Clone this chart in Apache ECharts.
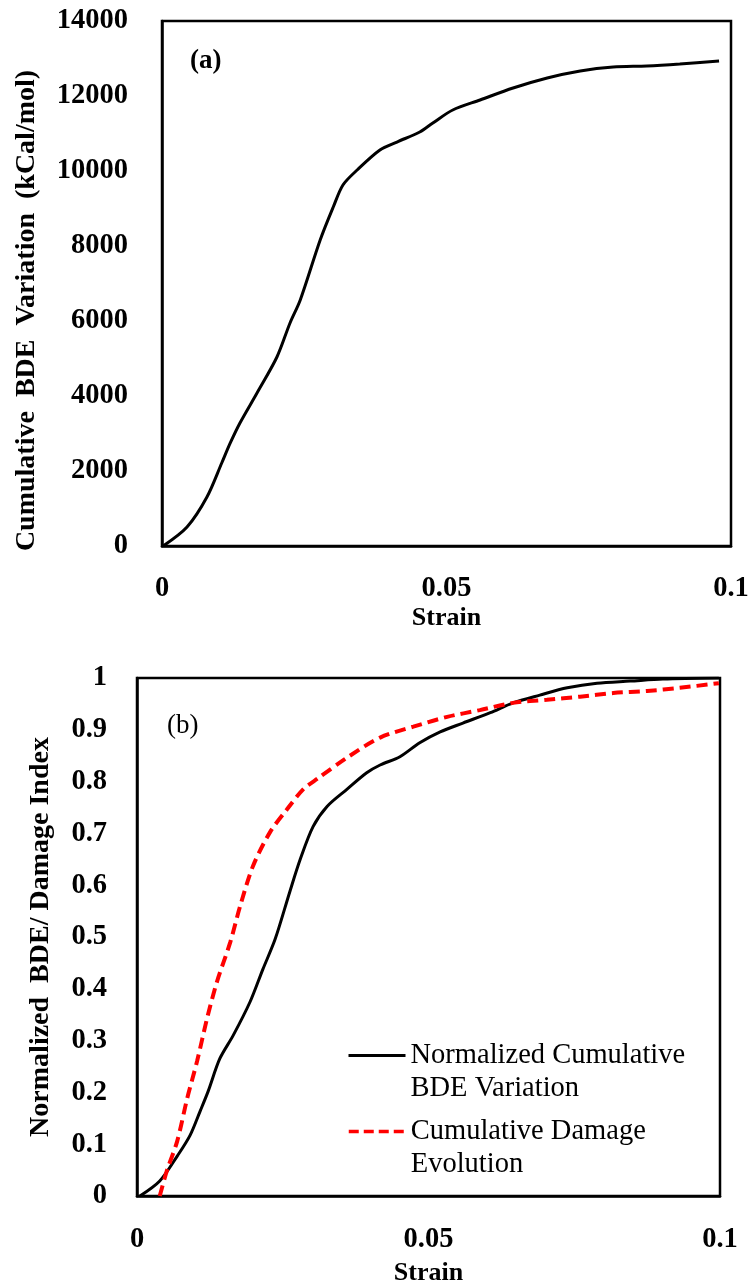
<!DOCTYPE html>
<html><head><meta charset="utf-8">
<script src="https://cdn.jsdelivr.net/npm/echarts@6/dist/echarts.min.js"></script>
<style>html,body{margin:0;padding:0;background:#fff}#c{width:754px;height:1287px}</style>
</head><body><div id="c"></div>
<script>
// ---- data ----
const strainA = [0.0002,0.0044,0.0079,0.0105,0.012,0.0137,0.0167,0.0202,0.0225,0.0243,0.0278,0.0301,0.0318,0.0343,0.0383,0.0413,0.0453,0.0476,0.0511,0.0559,0.0617,0.0677,0.0735,0.0793,0.0852,0.091,0.0979];
const bdeA    = [0,507,1307,2213,2747,3280,4080,5040,5947,6560,8160,9040,9627,10027,10560,10773,11040,11280,11627,11893,12213,12480,12667,12773,12800,12853,12933];

const strainB = [0.0005,0.0039,0.0069,0.0091,0.0108,0.0122,0.0142,0.0165,0.0194,0.0216,0.0237,0.0262,0.028,0.0302,0.0326,0.036,0.0394,0.0417,0.0451,0.0485,0.052,0.0559,0.0606,0.0645,0.0691,0.0738,0.0789,0.0846,0.0902,0.0998];
const normB   = [0,0.029,0.077,0.117,0.163,0.202,0.265,0.31,0.375,0.438,0.496,0.587,0.65,0.713,0.752,0.785,0.817,0.832,0.848,0.875,0.896,0.913,0.933,0.952,0.967,0.981,0.99,0.994,0.998,1.0];

const strainD = [0.0039,0.0051,0.0069,0.0086,0.0103,0.012,0.0137,0.016,0.0177,0.0199,0.0228,0.0257,0.0285,0.031,0.036,0.0417,0.0474,0.0532,0.0588,0.0645,0.0703,0.076,0.0817,0.0875,0.0931,0.0998];
const damageD = [0,0.048,0.106,0.188,0.26,0.342,0.413,0.49,0.56,0.637,0.702,0.746,0.785,0.806,0.846,0.885,0.906,0.925,0.938,0.952,0.958,0.964,0.971,0.975,0.981,0.99];

const seriesNames = ['Normalized Cumulative\nBDE Variation', 'Cumulative Damage\nEvolution'];
const panelLabels = ['(a)', '(b)'];
const axisTitles = {
  xA: 'Strain', yA: 'Cumulative  BDE  Variation  (kCal/mol)',
  xB: 'Strain', yB: 'Normalized  BDE/ Damage Index'
};
const xRange = {min: 0, max: 0.1, interval: 0.05};
const yRangeA = {min: 0, max: 14000, interval: 2000};
const yRangeB = {min: 0, max: 1, interval: 0.1};

const zip = (xs, ys) => xs.map((x, i) => [x, ys[i]]);

// ---- chart ----
const FONT = "'Liberation Serif','Times New Roman',serif";
const chart = echarts.init(document.getElementById('c'), null, {renderer: 'canvas'});
const axisLine = {show: true, onZero: false, lineStyle: {color: '#000', width: 2.5}};
const tickLabel = (margin) => ({fontFamily: FONT, fontSize: 28.5, fontWeight: 'bold', color: '#000', margin,
  formatter: v => String(v)});
const legendText = {fontFamily: FONT, fontSize: 28.5, lineHeight: 33, color: '#000'};
// leading blank line keeps the first text line level with the legend line sample
const legendFmt = name => '\n' + name;

chart.setOption({
  animation: false,
  backgroundColor: '#fff',
  title: [
    {text: panelLabels[0], left: 190, top: 48, padding: 0,
     textStyle: {fontFamily: FONT, fontSize: 27, fontWeight: 'bold', color: '#000'}},
    {text: panelLabels[1], left: 167, top: 712, padding: 0,
     textStyle: {fontFamily: FONT, fontSize: 27, fontWeight: 'normal', color: '#000'}}
  ],
  grid: [
    {left: 162, top: 21, width: 569, height: 525, show: true, borderColor: '#000', borderWidth: 2.5, containLabel: false},
    {left: 137, top: 678, width: 583, height: 520, show: true, borderColor: '#000', borderWidth: 2.5, containLabel: false}
  ],
  legend: [
    {data: [seriesNames[0]], left: 347, top: 1006, orient: 'vertical', padding: 0,
     itemWidth: 57, itemHeight: 14, selectedMode: false, formatter: legendFmt,
     itemStyle: {opacity: 0}, lineStyle: {width: 3, color: '#000', type: 'solid'}, textStyle: legendText},
    {data: [seriesNames[1]], left: 347, top: 1082, orient: 'vertical', padding: 0,
     itemWidth: 57, itemHeight: 14, selectedMode: false, formatter: legendFmt,
     itemStyle: {opacity: 0}, lineStyle: {width: 3.5, color: '#ff0000', type: [10, 5]}, textStyle: legendText}
  ],
  xAxis: [
    {type: 'value', gridIndex: 0, ...xRange, axisLine, axisTick: {show: false}, splitLine: {show: false},
     axisLabel: tickLabel(28),
     name: axisTitles.xA, nameLocation: 'middle', nameGap: 59,
     nameTextStyle: {fontFamily: FONT, fontSize: 26, fontWeight: 'bold', color: '#000'}},
    {type: 'value', gridIndex: 1, ...xRange, axisLine, axisTick: {show: false}, splitLine: {show: false},
     axisLabel: tickLabel(29),
     name: axisTitles.xB, nameLocation: 'middle', nameGap: 64,
     nameTextStyle: {fontFamily: FONT, fontSize: 26, fontWeight: 'bold', color: '#000'}}
  ],
  yAxis: [
    {type: 'value', gridIndex: 0, ...yRangeA, axisLine, axisTick: {show: false}, splitLine: {show: false},
     axisLabel: tickLabel(34),
     name: axisTitles.yA, nameLocation: 'middle', nameGap: 121,
     nameTextStyle: {fontFamily: FONT, fontSize: 28, fontWeight: 'bold', color: '#000', padding: [0, 54, 0, 0]}},
    {type: 'value', gridIndex: 1, ...yRangeB, axisLine, axisTick: {show: false}, splitLine: {show: false},
     axisLabel: tickLabel(30),
     name: axisTitles.yB, nameLocation: 'middle', nameGap: 82,
     nameTextStyle: {fontFamily: FONT, fontSize: 28, fontWeight: 'bold', color: '#000'}}
  ],
  series: [
    {type: 'line', xAxisIndex: 0, yAxisIndex: 0, data: zip(strainA, bdeA), symbol: 'none',
     smooth: 0.3, lineStyle: {color: '#000', width: 3}, itemStyle: {color: '#000'}},
    {name: seriesNames[0], type: 'line', xAxisIndex: 1, yAxisIndex: 1, data: zip(strainB, normB), symbol: 'none',
     smooth: 0.3, lineStyle: {color: '#000', width: 3}, itemStyle: {color: '#000'}},
    {name: seriesNames[1], type: 'line', xAxisIndex: 1, yAxisIndex: 1, data: zip(strainD, damageD), symbol: 'none',
     smooth: 0.3, lineStyle: {color: '#ff0000', width: 4, type: [11, 6]}, itemStyle: {color: '#ff0000'}}
  ]
});
</script></body></html>
